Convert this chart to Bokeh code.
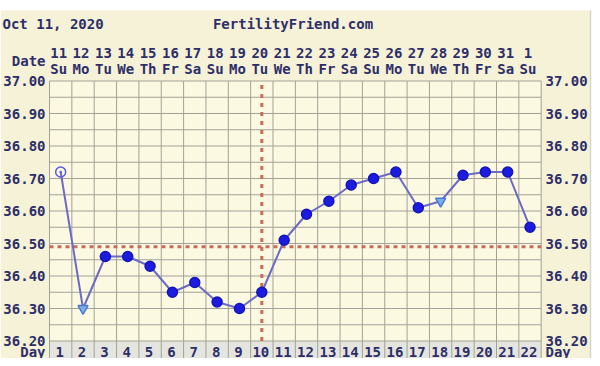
from bokeh.plotting import figure
from bokeh.models import Range1d
from bokeh.core.properties import value
from bokeh.embed import file_html
from bokeh.resources import INLINE

# ---- data ----
days = list(range(1, 23))
dates = ["11", "12", "13", "14", "15", "16", "17", "18", "19", "20", "21",
         "22", "23", "24", "25", "26", "27", "28", "29", "30", "31", "1"]
dows = ["Su", "Mo", "Tu", "We", "Th", "Fr", "Sa", "Su", "Mo", "Tu", "We",
        "Th", "Fr", "Sa", "Su", "Mo", "Tu", "We", "Th", "Fr", "Sa", "Su"]
temps = [36.72, 36.30, 36.46, 36.46, 36.43, 36.35, 36.38, 36.32, 36.30, 36.35, 36.51,
         36.59, 36.63, 36.68, 36.70, 36.72, 36.61, 36.63, 36.71, 36.72, 36.72, 36.55]
kinds = ["open", "tri"] + ["dot"] * 15 + ["tri"] + ["dot"] * 4
y_ticks = [36.20, 36.30, 36.40, 36.50, 36.60, 36.70, 36.80, 36.90, 37.00]
coverline = 36.49
ovulation_day = 10
chart_date = "Oct 11, 2020"
site = "FertilityFriend.com"

# ---- layout (pixel geometry of the canvas) ----
W, H = 592, 358
LEFT_PX, CW = 49.0, 22.35        # plot left edge, column width
Y_BASE_PX, PPU = 340.5, 325.0    # pixel row of 36.20, pixels per degree
Y_MIN, Y_MAX = 36.20, 37.00
X_FIRST, X_LAST = 0.5, 22.5

def px_x(px):
    return X_FIRST + (px - LEFT_PX) / CW

def px_y(py):
    return Y_MIN + (Y_BASE_PX - py) / PPU

FONT = value("DejaVu Sans Mono")
NAVY = "#2e2e68"
FS = "14px"
GRID = "#a2a298"
RED = "#cc6a5a"

p = figure(width=W, height=H, output_backend="svg", toolbar_location=None,
           x_range=Range1d(px_x(0), px_x(W)), y_range=Range1d(px_y(H), px_y(0)),
           x_axis_location=None, y_axis_location=None, min_border=0)
p.xgrid.visible = False
p.ygrid.visible = False
p.outline_line_color = None
p.background_fill_color = "white"
p.border_fill_color = "white"

Y_BOTTOM = px_y(H)

# outer beige panel
p.quad(left=[px_x(0)], right=[px_x(590)], bottom=[Y_BOTTOM], top=[px_y(10)],
       fill_color="#f5f2d8", line_color=None)
p.segment(x0=[px_x(590)], y0=[Y_BOTTOM], x1=[px_x(590)], y1=[px_y(10)],
          line_color="#d8d6c8", line_width=1.5)
# plot area
p.quad(left=[X_FIRST], right=[X_LAST], bottom=[Y_MIN], top=[Y_MAX],
       fill_color="#fbf9e2", line_color=None)
# day row
p.quad(left=[X_FIRST], right=[X_LAST], bottom=[Y_BOTTOM], top=[Y_MIN],
       fill_color="#e5e5df", line_color=None)

# grid
vx = [d + 0.5 for d in range(0, 23)]
p.segment(x0=vx, y0=[Y_BOTTOM] * len(vx), x1=vx, y1=[Y_MAX] * len(vx),
          line_color=GRID, line_width=1)
hy = [round(Y_MIN + 0.05 * i, 2) for i in range(17)]
p.segment(x0=[X_FIRST] * len(hy), y0=hy, x1=[X_LAST] * len(hy), y1=hy,
          line_color=GRID, line_width=1)

# coverline and ovulation line
p.segment(x0=[X_FIRST], y0=[coverline], x1=[X_LAST], y1=[coverline],
          line_color=RED, line_width=3, line_dash="4 4")
p.segment(x0=[ovulation_day], y0=[Y_MIN], x1=[ovulation_day], y1=[Y_MAX],
          line_color=RED, line_width=3, line_dash="4 5")

# data
marker_map = {"open": "circle_dot", "tri": "inverted_triangle", "dot": "circle"}
fill_map = {"open": "#fbf9e2", "tri": "#7ab0ea", "dot": "#1c1ce0"}
fa_map = {"open": 0.0, "tri": 1.0, "dot": 1.0}
line_map = {"open": "#5a5ae0", "tri": "#4a7ad0", "dot": "#1414b8"}
p.line(days, temps, line_color="#6b6bc4", line_width=2)
p.scatter(days, temps, marker=[marker_map[k] for k in kinds], size=10,
          fill_color=[fill_map[k] for k in kinds], fill_alpha=[fa_map[k] for k in kinds],
          line_color=[line_map[k] for k in kinds], line_width=1.5)

def txt(xs, ys, texts, align="center", x_offset=0):
    p.text(x=xs, y=ys, text=texts, text_font=FONT, text_font_size=FS,
           text_font_style="bold", text_color=NAVY, text_align=align,
           text_baseline="middle", x_offset=x_offset)

# y tick labels (left and right)
ylab = ["%.2f" % t for t in y_ticks]
txt([px_x(45)] * len(y_ticks), y_ticks, ylab, "right")
txt([px_x(545)] * len(y_ticks), y_ticks, ylab, "left")

# day row
DAY_Y = px_y(351)
txt(days, [DAY_Y] * len(days), [str(d) for d in days], "center", -1)
txt([px_x(45)], [DAY_Y], ["Day"], "right")
txt([px_x(545)], [DAY_Y], ["Day"], "left")

# top rows: dates and weekdays
txt(days, [px_y(52)] * len(days), dates, "center", -2)
txt(days, [px_y(68)] * len(days), dows, "center", -2)
txt([px_x(45)], [px_y(60)], ["Date"], "right")

# header
txt([px_x(2)], [px_y(23)], [chart_date], "left")
txt([px_x(292.5)], [px_y(23)], [site], "center")

open("out.html", "w").write(file_html(p, INLINE))
